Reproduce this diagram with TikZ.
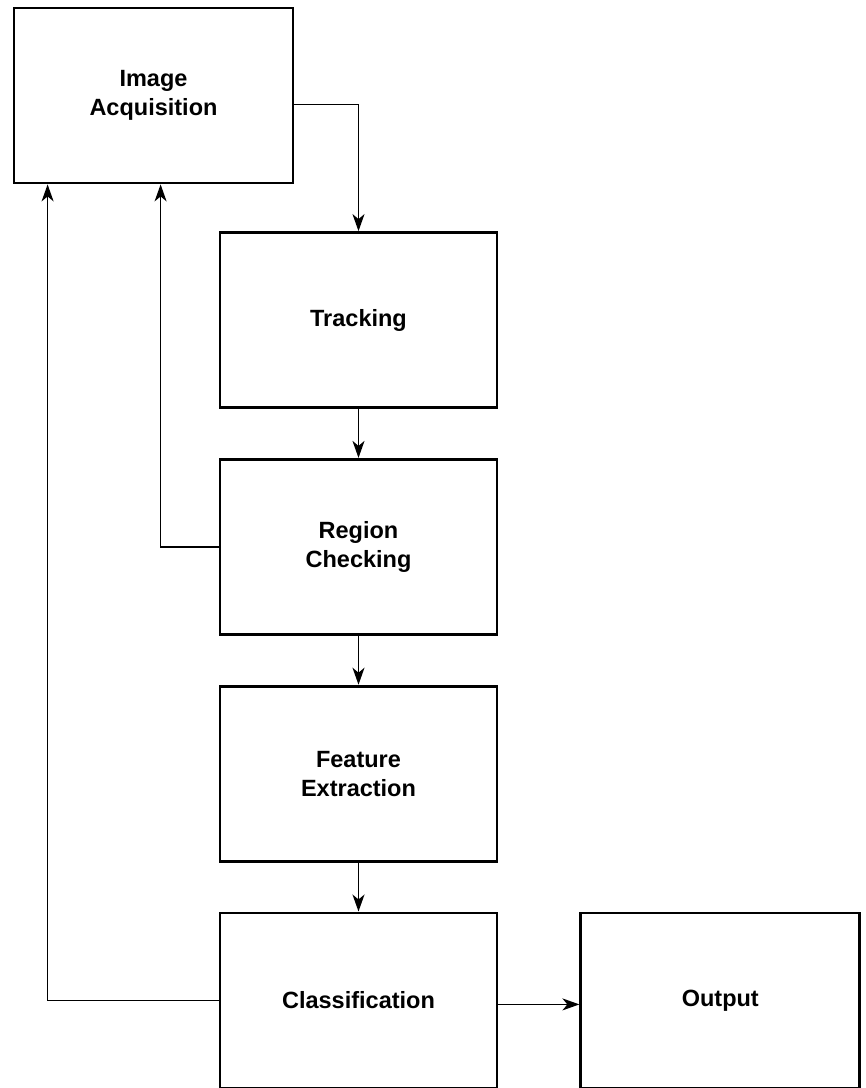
\documentclass[tikz,border=0pt]{standalone}
\usepackage{fontspec}
\setmainfont{Liberation Sans}
\usetikzlibrary{arrows.meta,positioning}

\begin{document}
\begin{tikzpicture}[node distance=49pt and 81pt, >={Stealth[length=17pt,width=12pt,inset=5pt]},
  blk/.style={draw, line width=2.8pt, minimum width=279pt, minimum height=175pt, inner sep=0pt,
    align=center, font=\fontsize{23.5}{29}\selectfont\bfseries},
  e/.style={->, line width=1.6pt}]
\useasboundingbox (0,0) rectangle (866pt,-1088pt);
\node[blk] (ia) at (153.5pt,-95.5pt) {Image\\Acquisition};
\node[blk, minimum width=277pt] (tr) at (358.5pt,-320pt) {Tracking};
\node[blk, minimum width=277pt, below=of tr] (rc) {Region\\Checking};
\node[blk, minimum width=277pt, below=of rc] (fe) {Feature\\Extraction};
\node[blk, minimum width=277pt, below=of fe] (cl) {Classification};
\node[blk, right=of cl] (out) {Output};
\coordinate[right=35pt of ia.south west] (f1);
\coordinate[right=148pt of ia.south west] (f2);
\draw[e] ([yshift=-9pt]ia.east) -| (tr.north);
\draw[e] (tr) -- (rc); \draw[e] (rc) -- (fe); \draw[e] (fe) -- (cl);
\draw[e] (rc.west) -| (f2);
\draw[e] (cl.west) -| (f1);
\draw[e] ([yshift=-4pt]cl.east) -- ([yshift=-4pt]out.west);
\end{tikzpicture}
\end{document}
